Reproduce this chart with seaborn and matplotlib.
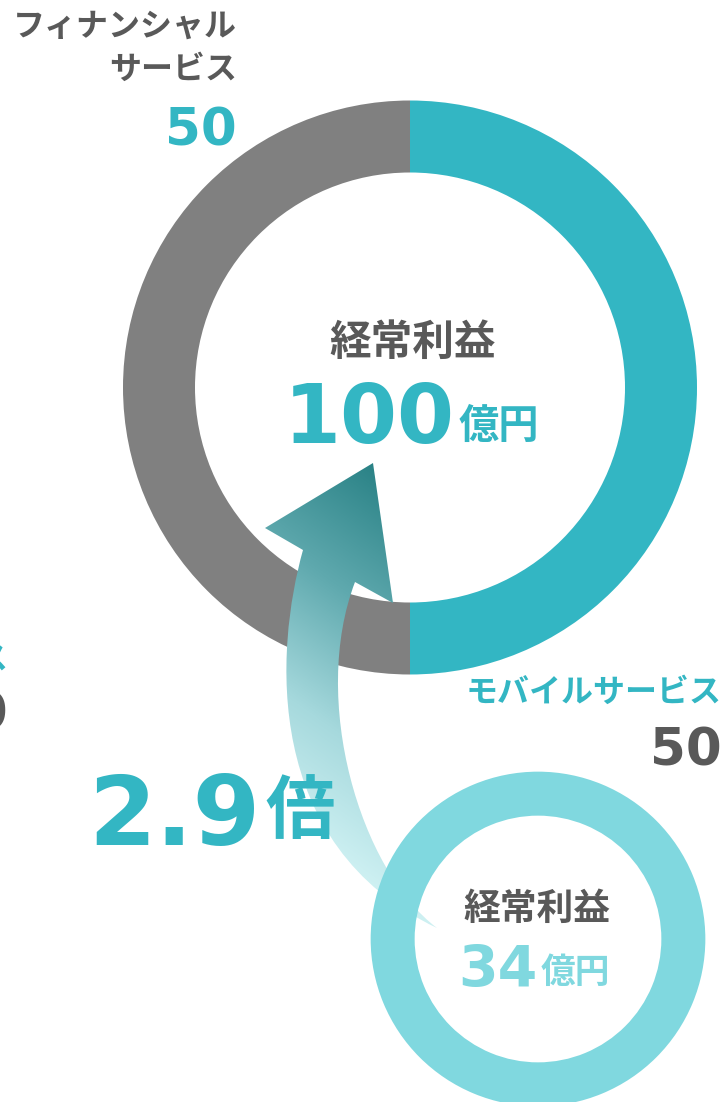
import numpy as np
import matplotlib
matplotlib.use("Agg")
import matplotlib.pyplot as plt
import seaborn as sns
from matplotlib.path import Path
from matplotlib.patches import PathPatch
from matplotlib.colors import LinearSegmentedColormap

sns.set_theme(style="white")
plt.rcParams['font.family'] = ['Noto Sans CJK JP', 'DejaVu Sans']

# ---- data ----
segments = ["モバイルサービス", "フィナンシャルサービス"]
segment_values = [50, 50]
total_now = 100
total_before = 34
center_label = "経常利益"
unit = "億円"
ratio_label = "2.9"
ratio_unit = "倍"

# ---- style ----
TEAL = "#33b6c3"
GRAY = "#808080"
LIGHT = "#80d8df"
DARK = "#595959"

W, H = 726, 1102
fig = plt.figure(figsize=(W / 100, H / 100), dpi=100)
ax = fig.add_axes([0, 0, 1, 1])


def Y(y):
    return H - y


R_big = 287
big_c = (410, Y(387.5))
ax.pie(segment_values, colors=[TEAL, GRAY], startangle=90, counterclock=False,
       radius=R_big, center=big_c,
       wedgeprops=dict(width=72, edgecolor='none', linewidth=0, zorder=1))

R_small = R_big * np.sqrt(total_before / total_now)
small_c = (538, Y(939))
ax.pie([total_before], colors=[LIGHT], startangle=90, radius=R_small, center=small_c,
       wedgeprops=dict(width=44, edgecolor='none', linewidth=0, zorder=4))

# ---- curved gradient arrow ----
pts = [(303, 550), (275, 650), (262, 845), (437, 928),
       (360, 870), (310, 700), (355, 582),
       (393, 603), (373, 463), (265, 528), (303, 550)]
codes = [Path.MOVETO, Path.CURVE4, Path.CURVE4, Path.CURVE4,
         Path.CURVE4, Path.CURVE4, Path.CURVE4,
         Path.LINETO, Path.LINETO, Path.LINETO, Path.CLOSEPOLY]
path = Path([(x, Y(y)) for x, y in pts], codes)
patch = PathPatch(path, facecolor='none', edgecolor='none', zorder=3)
ax.add_patch(patch)
cmap = LinearSegmentedColormap.from_list(
    "arr", [(0, "#2a8286"), (0.35, "#5fa9ae"), (0.7, "#a6d9dd"), (1, "#cdf0f2")])
xs = np.linspace(245, 455, 220)
ys = np.linspace(455, 940, 500)
XX, YY = np.meshgrid(xs, ys)
T = ((XX - 373) * (-0.7) + (YY - 463)) / 420
im = ax.imshow(T, extent=(245, 455, Y(940), Y(455)), origin='upper', cmap=cmap,
               vmin=0, vmax=1, zorder=3, aspect='auto', interpolation='bilinear')
im.set_clip_path(patch)

# ---- texts ----
DIG = 'DejaVu Sans'
ax.text(237, Y(27), "フィナンシャル", ha='right', va='center', fontsize=23,
        fontweight='bold', color=DARK)
ax.text(237, Y(70), "サービス", ha='right', va='center', fontsize=23,
        fontweight='bold', color=DARK)
ax.text(237, Y(145), str(segment_values[1]), ha='right', va='baseline', fontsize=37,
        fontweight='bold', color=TEAL, family=DIG)

ax.text(722, Y(693), segments[0], ha='right', va='center', fontsize=23,
        fontweight='bold', color=TEAL)
ax.text(722, Y(766), str(segment_values[0]), ha='right', va='baseline', fontsize=37,
        fontweight='bold', color=DARK, family=DIG)

# partial labels cut at left edge (as in the reference)
ax.text(8, Y(660), "サービス", ha='right', va='center', fontsize=23,
        fontweight='bold', color=TEAL)
ax.text(8, Y(729), "50", ha='right', va='baseline', fontsize=37,
        fontweight='bold', color=DARK, family=DIG)

ax.text(413, Y(343), center_label, ha='center', va='center', fontsize=30,
        fontweight='bold', color=DARK, zorder=5)
ax.text(455, Y(443), str(total_now), ha='right', va='baseline', fontsize=59,
        fontweight='bold', color=TEAL, family=DIG, zorder=5)
ax.text(459, Y(426), unit, ha='left', va='center', fontsize=29,
        fontweight='bold', color=TEAL, zorder=5)

ax.text(88, Y(845), ratio_label, ha='left', va='baseline', fontsize=70,
        fontweight='bold', color=TEAL, family=DIG, zorder=5)
ax.text(265, Y(813), ratio_unit, ha='left', va='center', fontsize=50,
        fontweight='bold', color=TEAL, zorder=5)

ax.text(537, Y(909), center_label, ha='center', va='center', fontsize=26.5,
        fontweight='bold', color=DARK, zorder=5)
ax.text(538, Y(987), str(total_before), ha='right', va='baseline', fontsize=41,
        fontweight='bold', color=LIGHT, family=DIG, zorder=5)
ax.text(541, Y(972), unit, ha='left', va='center', fontsize=25,
        fontweight='bold', color=LIGHT, zorder=5)

ax.set_xlim(0, W)
ax.set_ylim(0, H)
ax.set_aspect('auto')
ax.axis('off')
fig.savefig("out.png", dpi=100, facecolor='white')
